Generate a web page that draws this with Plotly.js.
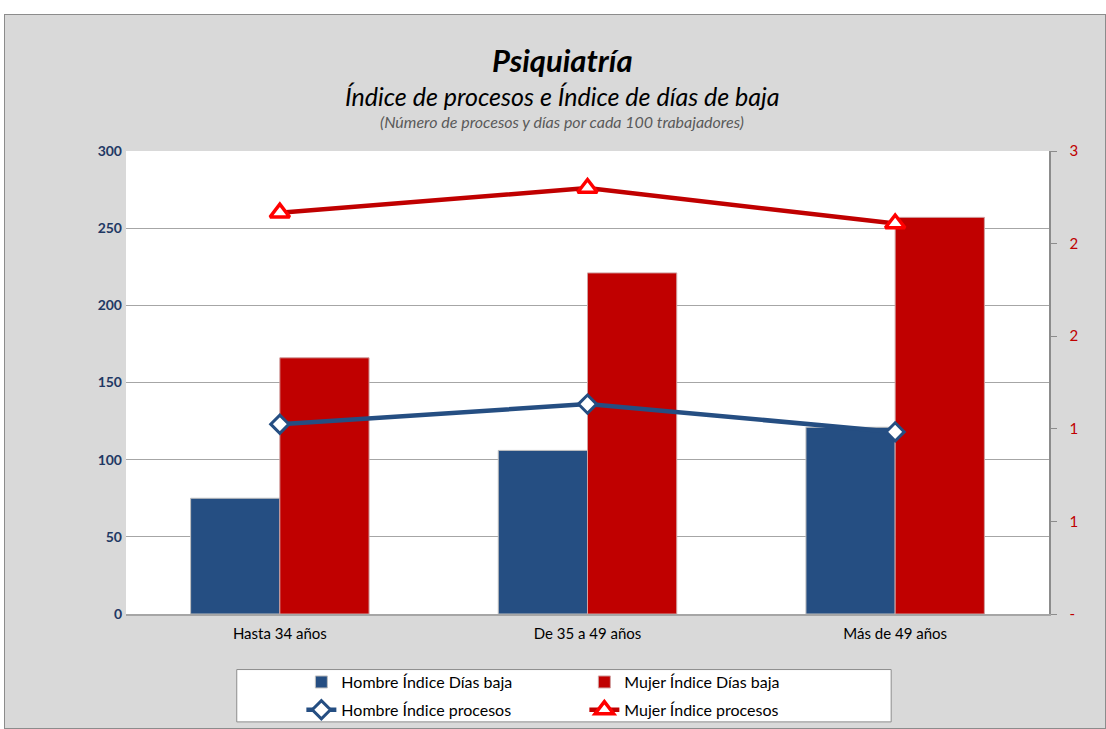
<!DOCTYPE html>
<html>
<head>
<meta charset="utf-8">
<script src="https://cdn.plot.ly/plotly-3.0.1.min.js"></script>
<style>
  html, body { margin: 0; padding: 0; background: #ffffff; }
  #chart { position: absolute; left: 4px; top: 14px; width: 1100px; height: 713px; border: 1px solid #8c8c8c; }
</style>
</head>
<body>
<div id="chart"></div>
<script>
const categories = ["Hasta 34 años", "De 35 a 49 años", "Más de 49 años"];
const hombreDias = [75, 106, 121];
const mujerDias = [166, 221, 257];
const hombreProcesos = [1.23, 1.36, 1.18];
const mujerProcesos = [2.60, 2.76, 2.53];
const rightTickVals = [0, 0.6, 1.2, 1.8, 2.4, 3.0];
const rightTickText = ["-", "1", "1", "2", "2", "3"];
const leftTickVals = [0, 50, 100, 150, 200, 250, 300];

const FONT = "Lato, 'Open Sans', sans-serif";
const BLUE = "#254e82";
const RED = "#c00000";

const traces = [
  {
    type: "bar", name: "Hombre Índice Días baja", x: categories, y: hombreDias,
    marker: { color: BLUE, line: { color: "#bfbfbf", width: 1 } },
    legend: "legend", hoverinfo: "skip"
  },
  {
    type: "bar", name: "Mujer Índice Días baja", x: categories, y: mujerDias,
    marker: { color: RED, line: { color: "#d0a0a0", width: 1 } },
    legend: "legend", hoverinfo: "skip"
  },
  {
    type: "scatter", mode: "lines+markers", name: "Hombre Índice procesos",
    x: categories, y: hombreProcesos, yaxis: "y2",
    line: { color: BLUE, width: 4.5 },
    marker: { symbol: "diamond", size: 14, color: "#ffffff", line: { color: BLUE, width: 3 } },
    legend: "legend2", hoverinfo: "skip"
  },
  {
    type: "scatter", mode: "lines+markers", name: "Mujer Índice procesos",
    x: categories, y: mujerProcesos, yaxis: "y2",
    line: { color: RED, width: 4.5 },
    marker: { symbol: "triangle-up", size: 17, color: "#ffffff", line: { color: "#ff0000", width: 3.5 } },
    legend: "legend2", hoverinfo: "skip"
  }
];

const legendCommon = {
  orientation: "h", xanchor: "left", yanchor: "middle",
  entrywidth: 238, entrywidthmode: "pixels",
  bgcolor: "rgba(0,0,0,0)", borderwidth: 0,
  font: { family: FONT, size: 16, color: "#000000" }
};

const layout = {
  width: 1100, height: 713,
  margin: { l: 121, r: 56, t: 136, b: 114, autoexpand: false },
  paper_bgcolor: "#d9d9d9",
  plot_bgcolor: "#ffffff",
  font: { family: FONT },
  showlegend: true,
  barmode: "group",
  bargap: 0.42,
  bargroupgap: 0,
  xaxis: {
    type: "category",
    showline: true, linecolor: "#a6a6a6", linewidth: 1.5,
    ticks: "", showgrid: false, ticklabelstandoff: 5,
    tickfont: { family: FONT, size: 15, color: "#000000" }
  },
  yaxis: {
    range: [0, 300], tickvals: leftTickVals,
    showgrid: true, gridcolor: "#a6a6a6", gridwidth: 1,
    zeroline: false, showline: false,
    ticks: "", ticklabelstandoff: 3,
    tickfont: { family: FONT, size: 14, color: "#1f3864", weight: "bold" }
  },
  yaxis2: {
    range: [0, 3], overlaying: "y", side: "right",
    tickvals: rightTickVals, ticktext: rightTickText,
    showgrid: false, zeroline: false,
    showline: true, linecolor: "#8c8c8c", linewidth: 1.5,
    ticks: "outside", ticklen: 6, tickcolor: "#8c8c8c",
    ticklabelstandoff: 10,
    tickfont: { family: FONT, size: 15, color: "#c00000" }
  },
  legend: Object.assign({}, legendCommon, { x: 0.19, y: -0.147 }),
  legend2: Object.assign({}, legendCommon, { x: 0.19, y: -0.207 }),
  shapes: [
    {
      type: "rect", xref: "paper", yref: "paper",
      x0: 0.12, x1: 0.829, y0: -0.120, y1: -0.233,
      line: { color: "#8c8c8c", width: 1 }, fillcolor: "#ffffff", layer: "below"
    }
  ],
  annotations: [
    {
      text: "<b><i>Psiquiatría</i></b>", xref: "paper", yref: "paper",
      x: 0.4724, y: 1.197, showarrow: false, xanchor: "center", yanchor: "middle",
      font: { family: FONT, size: 31, color: "#000000" }
    },
    {
      text: "<i>Índice de procesos e Índice de días de baja</i>", xref: "paper", yref: "paper",
      x: 0.4724, y: 1.119, showarrow: false, xanchor: "center", yanchor: "middle",
      font: { family: FONT, size: 25, color: "#000000" }
    },
    {
      text: "<i>(Número de procesos y días por cada 100 trabajadores)</i>", xref: "paper", yref: "paper",
      x: 0.4724, y: 1.063, showarrow: false, xanchor: "center", yanchor: "middle",
      font: { family: FONT, size: 16, color: "#595959" }
    }
  ]
};

Plotly.newPlot("chart", traces, layout, { displayModeBar: false, staticPlot: true });
</script>
</body>
</html>
